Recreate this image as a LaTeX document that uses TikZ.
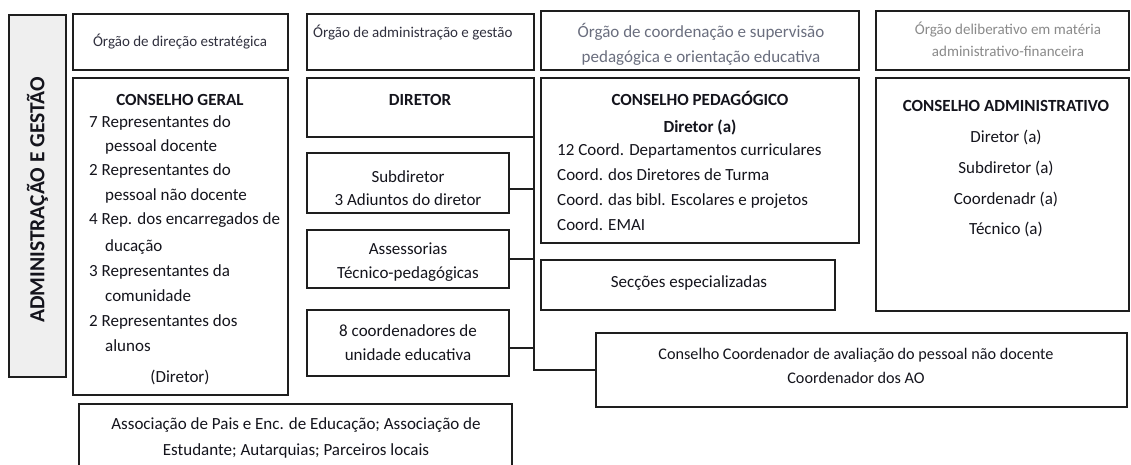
\documentclass[tikz,border=0pt]{standalone}
\usepackage{fontspec}
\setmainfont{Carlito}
\definecolor{ln}{HTML}{1E1E1E}
\definecolor{tx}{HTML}{14141C}
\definecolor{hd}{HTML}{30303E}
\definecolor{hdg}{HTML}{6A6E7E}
\definecolor{hdl}{HTML}{8A8A8A}
\definecolor{sidefill}{HTML}{EFEFEF}
\newcommand\obox[5]{\node[box,anchor=north west,minimum width=#4pt,minimum height=#5pt] (#1) at (#2,#3) {};}
\begin{document}
\begin{tikzpicture}[x=1pt,y=-1pt,
 box/.style={draw=ln,line width=1.9pt,inner sep=0pt,outer sep=0pt,rectangle},
 conn/.style={draw=ln,line width=1.9pt},
 body/.style={font=\fontsize{17}{20}\selectfont,text=tx,inner sep=0pt,anchor=base},
 bodyl/.style={body,anchor=base west},
 bold/.style={body,font=\fontsize{17}{20}\selectfont\bfseries},
 head/.style={font=\fontsize{15}{18}\selectfont,text=hd,inner sep=0pt,anchor=base},
 ]
\path[use as bounding box] (0,0) rectangle (1131,464);
\clip (0,0) rectangle (1131,464);
\fill[white] (0,0) rectangle (1131,464);

% boxes
\node[box,fill=sidefill,anchor=north west,minimum width=57pt,minimum height=362pt] (side) at (9,15) {};
\obox{dirh}{73}{14}{215}{56}
\obox{cg}{73}{78}{215}{317}
\obox{assoc}{79}{404}{433}{70}
\obox{admh}{307}{14}{227}{56}
\obox{diretor}{307}{78}{227}{59}
\obox{sub}{307}{153}{202}{60}
\obox{ass}{307}{230}{202}{58}
\obox{coord}{307}{310}{202}{66}
\obox{cph}{541}{11}{318}{59}
\obox{cp}{541}{78}{318}{165}
\obox{sec}{541}{260}{294}{50}
\obox{cah}{876}{11}{253}{59}
\obox{ca}{876}{78}{253}{233}
\obox{cc}{596}{333}{531}{74}

% connectors
\draw[conn] (diretor.south east) |- (cc.west);
\draw[conn] ([yshift=-6pt]sub.east) -- ([yshift=-6pt]sub.east -| diretor.east);
\draw[conn] (ass.east) -- (ass.east -| diretor.east);
\draw[conn] ([yshift=-5pt]coord.east) -- ([yshift=-5pt]coord.east -| diretor.east);

% side label
\node[rotate=90,font=\fontsize{21.5}{24}\selectfont\bfseries,text=tx,inner sep=0pt] (sidet) at ([yshift=-4pt]side.center) {ADMINISTRAÇÃO E GESTÃO};

% headers
\node[head] (t1) at (180,46) {Órgão de direção estratégica};
\node[head,anchor=base west] (t2) at (313,37) {Órgão de administração e gestão};
\node[head,text=hdg,font=\fontsize{17}{20}\selectfont] (t3a) at (701,37) {Órgão de coordenação e supervisão};
\node[head,text=hdg,font=\fontsize{17}{20}\selectfont] (t3b) at (701,62) {pedagógica e orientação educativa};
\node[head,text=hdl,font=\fontsize{15}{18}\selectfont] (t4a) at (1008,34) {Órgão deliberativo em matéria};
\node[head,text=hdl,font=\fontsize{15}{18}\selectfont] (t4b) at (1008,56) {administrativo-financeira};

% conselho geral
\node[bold] (cg0) at (180,105.5) {CONSELHO GERAL};
\node[bodyl] (cg1) at (89,127) {7 Representantes do};
\node[bodyl] (cg2) at (105,151) {pessoal docente};
\node[bodyl] (cg3) at (89,175) {2 Representantes do};
\node[bodyl] (cg4) at (105,200) {pessoal não docente};
\node[bodyl] (cg5) at (89,224) {4 Rep. dos encarregados de};
\node[bodyl] (cg6) at (105,251) {ducação};
\node[bodyl] (cg7) at (89,276) {3 Representantes da};
\node[bodyl] (cg8) at (105,301) {comunidade};
\node[bodyl] (cg9) at (89,326) {2 Representantes dos};
\node[bodyl] (cg10) at (105,351) {alunos};
\node[body] (cg11) at (180,382) {(Diretor)};

% diretor column
\node[bold] (d0) at (420,105.5) {DIRETOR};
\node[body] (s1) at (408,182) {Subdiretor};
\node[body] (s2) at (408,205) {3 Adiuntos do diretor};
\node[body] (a1) at (408,254) {Assessorias};
\node[body] (a2) at (408,278) {Técnico-pedagógicas};
\node[body] (c1) at (408,336) {8 coordenadores de};
\node[body] (c2) at (408,360) {unidade educativa};

% conselho pedagogico
\node[bold] (p0) at (700,105.5) {CONSELHO PEDAGÓGICO};
\node[bold] (p1) at (700,132) {Diretor (a)};
\node[bodyl] (p2) at (557,155) {12 Coord. Departamentos curriculares};
\node[bodyl] (p3) at (557,180) {Coord. dos Diretores de Turma};
\node[bodyl] (p4) at (557,205) {Coord. das bibl. Escolares e projetos};
\node[bodyl] (p5) at (557,230) {Coord. EMAI};
\node[body] (se) at (689,287) {Secções especializadas};

% conselho administrativo
\node[bold] (ca0) at (1006,111.5) {CONSELHO ADMINISTRATIVO};
\node[body] (ca1) at (1006,142) {Diretor (a)};
\node[body] (ca2) at (1006,173) {Subdiretor (a)};
\node[body] (ca3) at (1006,204) {Coordenadr (a)};
\node[body] (ca4) at (1006,234) {Técnico (a)};

% conselho coordenador
\node[body,font=\fontsize{16.2}{19}\selectfont] (cc1) at (856,359) {Conselho Coordenador de avaliação do pessoal não docente};
\node[body,font=\fontsize{16.2}{19}\selectfont] (cc2) at (856,383) {Coordenador dos AO};

% associacao
\node[body] (as1) at (296,429) {Associação de Pais e Enc. de Educação; Associação de};
\node[body] (as2) at (296,455) {Estudante; Autarquias; Parceiros locais};
\end{tikzpicture}
\end{document}
